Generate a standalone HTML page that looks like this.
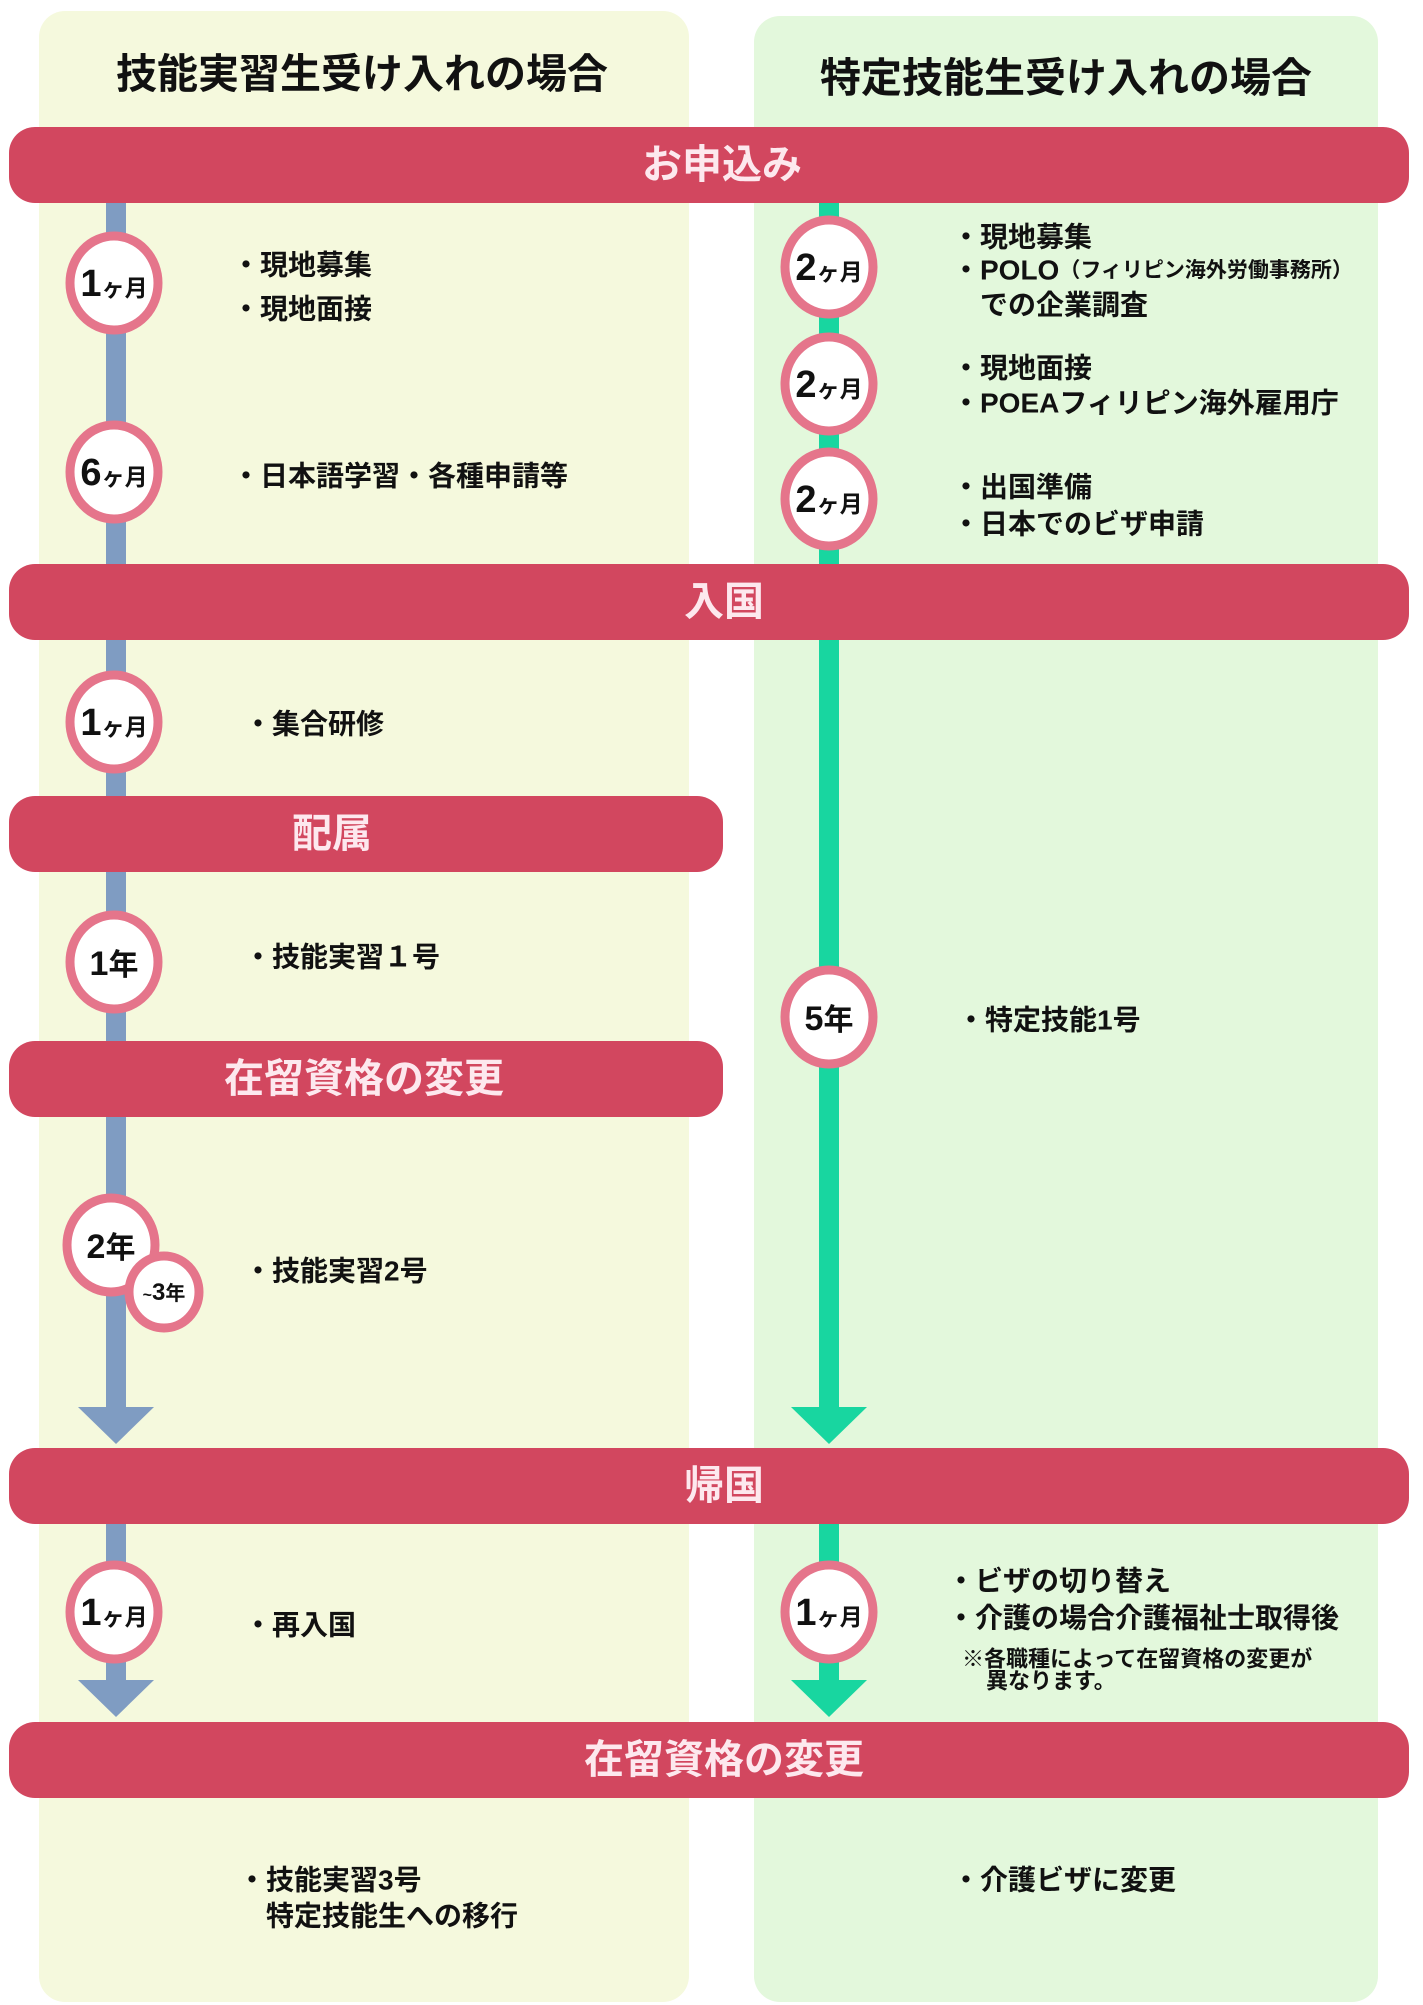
<!DOCTYPE html>
<html><head><meta charset="utf-8"><style>
html,body{margin:0;padding:0;background:#fff}
svg{display:block}
text{font-family:"Liberation Sans","Noto Sans CJK JP",sans-serif;font-weight:bold;fill:#111}
.bar{font-size:40px;fill:#fde8ee}
.t{font-size:28px}
.s{font-size:22px}
</style></head><body>
<svg width="1423" height="2005" viewBox="0 0 1423 2005" xmlns="http://www.w3.org/2000/svg">
<rect x="39" y="11" width="650" height="1991" rx="26" fill="#f5f9dd"/>
<rect x="754" y="16" width="624" height="1986" rx="26" fill="#e3f8dc"/>
<text x="362" y="74" font-size="41" text-anchor="middle" dominant-baseline="central">技能実習生受け入れの場合</text>
<text x="1066" y="78" font-size="41" text-anchor="middle" dominant-baseline="central">特定技能生受け入れの場合</text>

<rect x="106" y="200" width="20" height="1210" fill="#7f9cc2"/>
<rect x="106" y="1520" width="20" height="162" fill="#7f9cc2"/>
<polygon points="78,1407 154,1407 116,1444" fill="#7f9cc2"/>
<polygon points="78,1680 154,1680 116,1717" fill="#7f9cc2"/>
<rect x="819" y="200" width="20" height="1210" fill="#18d6a0"/>
<rect x="819" y="1520" width="20" height="162" fill="#18d6a0"/>
<polygon points="791,1407 867,1407 829,1444" fill="#18d6a0"/>
<polygon points="791,1680 867,1680 829,1717" fill="#18d6a0"/>

<g fill="#d2475f">
<rect x="9" y="127" width="1400" height="76" rx="26"/>
<rect x="9" y="564" width="1400" height="76" rx="26"/>
<rect x="9" y="796" width="714" height="76" rx="26"/>
<rect x="9" y="1041" width="714" height="76" rx="26"/>
<rect x="9" y="1448" width="1400" height="76" rx="26"/>
<rect x="9" y="1722" width="1400" height="76" rx="26"/>
</g>
<text class="bar" x="722" y="165" text-anchor="middle" dominant-baseline="central">お申込み</text>
<text class="bar" x="724" y="602" text-anchor="middle" dominant-baseline="central">入国</text>
<text class="bar" x="332" y="834" text-anchor="middle" dominant-baseline="central">配属</text>
<text class="bar" x="364" y="1079" text-anchor="middle" dominant-baseline="central">在留資格の変更</text>
<text class="bar" x="724" y="1486" text-anchor="middle" dominant-baseline="central">帰国</text>
<text class="bar" x="724" y="1760" text-anchor="middle" dominant-baseline="central">在留資格の変更</text>

<g fill="#fff" stroke="#e5758b" stroke-width="9">
<ellipse cx="114" cy="283" rx="44" ry="47"/>
<ellipse cx="114" cy="472" rx="44" ry="47"/>
<ellipse cx="114" cy="722" rx="44" ry="47"/>
<ellipse cx="114" cy="962" rx="44" ry="47"/>
<ellipse cx="111" cy="1245" rx="44" ry="47"/>
<ellipse cx="164" cy="1292" rx="35" ry="36"/>
<ellipse cx="114" cy="1612" rx="44" ry="47"/>
<ellipse cx="829" cy="267" rx="44" ry="47"/>
<ellipse cx="829" cy="384" rx="44" ry="47"/>
<ellipse cx="829" cy="499" rx="44" ry="47"/>
<ellipse cx="829" cy="1017" rx="44" ry="47"/>
<ellipse cx="829" cy="1612" rx="44" ry="47"/>
</g>
<g text-anchor="middle">
<text x="114" y="296"><tspan font-size="38">1</tspan><tspan font-size="23">ヶ月</tspan></text>
<text x="114" y="485"><tspan font-size="38">6</tspan><tspan font-size="23">ヶ月</tspan></text>
<text x="114" y="735"><tspan font-size="38">1</tspan><tspan font-size="23">ヶ月</tspan></text>
<text x="114" y="975"><tspan font-size="34">1</tspan><tspan font-size="30">年</tspan></text>
<text x="111" y="1258"><tspan font-size="34">2</tspan><tspan font-size="30">年</tspan></text>
<text x="164" y="1300"><tspan font-size="16">~</tspan><tspan font-size="24">3</tspan><tspan font-size="20">年</tspan></text>
<text x="114" y="1625"><tspan font-size="38">1</tspan><tspan font-size="23">ヶ月</tspan></text>
<text x="829" y="280"><tspan font-size="38">2</tspan><tspan font-size="23">ヶ月</tspan></text>
<text x="829" y="397"><tspan font-size="38">2</tspan><tspan font-size="23">ヶ月</tspan></text>
<text x="829" y="512"><tspan font-size="38">2</tspan><tspan font-size="23">ヶ月</tspan></text>
<text x="829" y="1030"><tspan font-size="34">5</tspan><tspan font-size="30">年</tspan></text>
<text x="829" y="1625"><tspan font-size="38">1</tspan><tspan font-size="23">ヶ月</tspan></text>
</g>

<g dominant-baseline="central">
<text class="t" x="232" y="265">・現地募集</text>
<text class="t" x="232" y="309">・現地面接</text>
<text class="t" x="232" y="476">・日本語学習・各種申請等</text>
<text class="t" x="244" y="724">・集合研修</text>
<text class="t" x="244" y="957">・技能実習１号</text>
<text class="t" x="244" y="1271">・技能実習2号</text>
<text class="t" x="244" y="1625">・再入国</text>
<text class="t" x="238" y="1880">・技能実習3号</text>
<text class="t" x="266" y="1916">特定技能生への移行</text>
<text class="t" x="952" y="237">・現地募集</text>
<text class="t" x="952" y="270">・POLO<tspan font-size="21">（フィリピン海外労働事務所）</tspan></text>
<text class="t" x="980" y="305">での企業調査</text>
<text class="t" x="952" y="368">・現地面接</text>
<text class="t" x="952" y="403">・POEAフィリピン海外雇用庁</text>
<text class="t" x="952" y="487">・出国準備</text>
<text class="t" x="952" y="524">・日本でのビザ申請</text>
<text class="t" x="957" y="1020">・特定技能1号</text>
<text class="t" x="947" y="1581">・ビザの切り替え</text>
<text class="t" x="947" y="1618">・介護の場合介護福祉士取得後</text>
<text class="s" x="962" y="1659">※各職種によって在留資格の変更が</text>
<text class="s" x="986" y="1681">異なります。</text>
<text class="t" x="952" y="1880">・介護ビザに変更</text>
</g>
</svg>
</body></html>
